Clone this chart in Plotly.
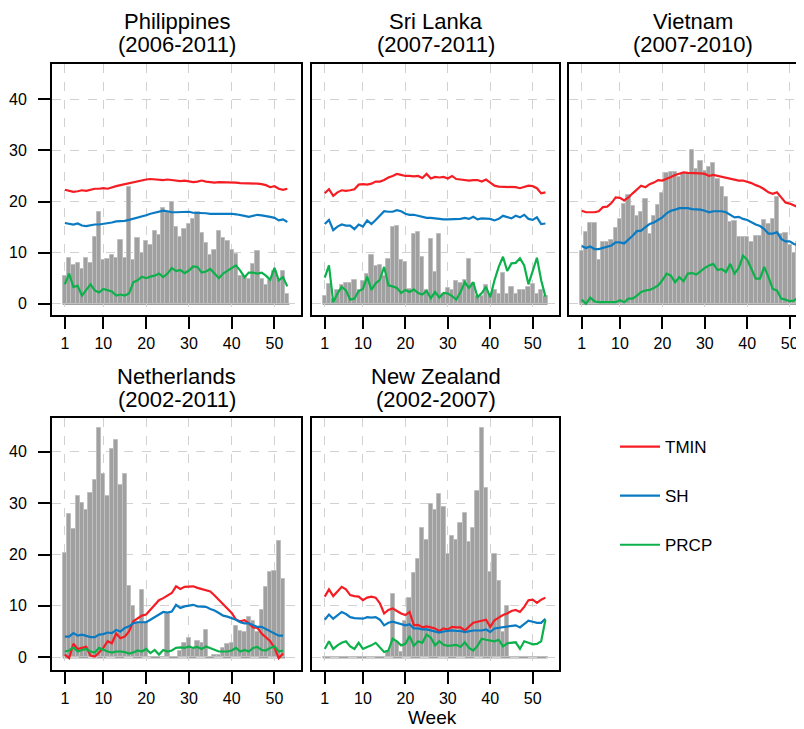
import plotly.graph_objects as go

PAGE_W, PAGE_H = 804, 729
OFF = 8  # default page body margin
W, H = PAGE_W - OFF, PAGE_H - OFF

countries = ["Philippines", "Sri Lanka", "Vietnam", "Netherlands", "New Zealand"]
periods = ["(2006-2011)", "(2007-2011)", "(2007-2010)", "(2002-2011)", "(2002-2007)"]
x_tick_vals = [1, 10, 20, 30, 40, 50]
y_tick_vals = [0, 10, 20, 30, 40]
series_names = ["TMIN", "SH", "PRCP"]

# ---- Philippines (weeks 1-53)
ph_cases = [5.5, 9.0, 7.5, 8.0, 6.8, 9.0, 8.0, 13.0, 18.0, 8.5, 8.8, 9.5, 9.0, 12.5, 9.0, 22.8, 8.5, 12.8,
            10.0, 12.2, 11.4, 14.2, 13.4, 18.8, 18.0, 19.9, 15.0, 13.0, 14.6, 15.6, 16.6, 18.0, 13.9, 11.9,
            9.5, 10.6, 14.3, 12.8, 12.2, 10.6, 9.8, 5.5, 5.5, 4.9, 7.7, 10.4, 4.9, 3.6, 4.6, 6.4, 4.6, 6.5, 2.0]
ph_tmin = [22.3, 22.1, 21.9, 22.0, 22.2, 22.1, 22.3, 22.5, 22.5, 22.6, 22.5, 22.8, 23.0, 23.2, 23.4, 23.6,
           23.8, 23.9, 24.1, 24.3, 24.4, 24.3, 24.3, 24.2, 24.3, 24.2, 24.0, 24.0, 24.1, 24.0, 23.8, 23.9,
           24.1, 23.9, 23.8, 23.7, 23.8, 23.8, 23.7, 23.7, 23.7, 23.6, 23.6, 23.5, 23.5, 23.5, 23.4, 23.2,
           22.8, 23.0, 22.5, 22.3, 22.5]
ph_sh = [15.8, 15.7, 15.5, 15.7, 15.3, 15.2, 15.4, 15.5, 15.5, 15.6, 15.8, 15.9, 16.1, 16.1, 16.2, 16.4,
         16.6, 16.8, 17.0, 17.3, 17.6, 17.8, 18.0, 18.2, 18.1, 17.9, 17.9, 17.9, 18.0, 18.0, 17.8, 17.8,
         17.7, 17.7, 17.6, 17.6, 17.6, 17.7, 17.6, 17.6, 17.5, 17.4, 17.2, 17.0, 17.2, 17.4, 17.3, 17.2,
         17.0, 16.8, 16.3, 16.5, 16.0]
ph_prcp = [3.8, 5.9, 3.3, 3.5, 1.6, 2.7, 3.8, 2.6, 2.2, 2.9, 2.6, 2.4, 1.6, 1.8, 1.6, 2.0, 4.2, 4.6, 5.3,
           5.0, 5.3, 5.5, 5.9, 5.2, 5.9, 7.0, 6.4, 6.6, 6.0, 6.5, 7.3, 7.2, 6.1, 6.3, 6.8, 5.9, 5.0, 5.9,
           6.4, 7.0, 7.5, 6.5, 5.2, 6.1, 6.1, 5.9, 6.1, 5.5, 4.7, 7.0, 4.6, 5.2, 3.4]

# ---- Sri Lanka (weeks 1-53)
sl_cases = [1.6, 3.9, 1.0, 2.6, 3.6, 4.0, 4.0, 4.7, 2.6, 4.4, 5.9, 9.6, 7.3, 7.5, 5.5, 8.8, 15.0, 15.3,
            8.6, 8.1, 2.9, 13.7, 14.0, 9.1, 2.6, 12.7, 6.2, 13.7, 2.0, 3.1, 2.6, 4.4, 4.0, 4.6, 8.8, 4.0,
            1.6, 1.6, 3.6, 1.8, 2.7, 2.0, 6.0, 2.0, 3.3, 2.0, 2.6, 2.6, 3.3, 3.8, 2.0, 2.7, 1.6]
sl_tmin = [21.6, 22.4, 21.1, 21.8, 22.2, 22.1, 22.2, 22.4, 23.3, 23.4, 23.3, 23.5, 23.9, 23.9, 24.2, 24.7,
           25.0, 25.4, 25.2, 25.0, 25.0, 24.9, 25.0, 24.6, 25.4, 24.5, 24.8, 24.7, 24.8, 24.5, 25.0, 24.4,
           24.3, 24.2, 24.1, 24.2, 24.2, 23.9, 24.3, 23.7, 23.1, 22.9, 22.9, 22.9, 22.9, 22.8, 22.6, 22.9,
           23.1, 23.0, 22.6, 21.6, 21.8]
sl_sh = [15.6, 16.4, 14.4, 15.1, 15.5, 15.3, 15.3, 14.6, 15.5, 15.1, 16.3, 15.6, 16.4, 17.2, 18.1, 18.0,
         18.0, 18.3, 18.1, 17.6, 17.4, 17.4, 17.2, 17.0, 16.8, 16.8, 16.7, 16.5, 16.5, 16.5, 16.5, 16.5,
         16.6, 16.8, 16.6, 17.0, 16.5, 16.7, 16.6, 16.6, 16.3, 16.6, 17.2, 16.9, 16.7, 17.2, 16.9, 17.4,
         16.6, 16.4, 16.9, 15.6, 15.7]
sl_prcp = [5.1, 7.5, 0.3, 2.0, 3.3, 2.6, 0.8, 1.0, 2.5, 2.9, 5.3, 2.7, 4.0, 4.7, 7.2, 3.6, 3.4, 3.1, 2.1,
           2.7, 2.3, 2.8, 2.1, 1.8, 2.5, 1.1, 2.3, 1.2, 2.1, 2.0, 1.5, 0.8, 2.3, 4.2, 3.1, 4.2, 1.3, 2.1,
           3.3, 1.3, 4.6, 7.2, 9.2, 6.4, 7.9, 8.0, 8.9, 7.5, 3.8, 6.5, 9.0, 4.6, 1.4]

# ---- Vietnam (weeks 1-53)
vn_cases = [10.4, 14.0, 15.7, 15.7, 8.5, 12.0, 12.0, 12.4, 14.8, 16.5, 19.5, 21.3, 19.2, 17.2, 17.9, 20.5,
            13.7, 17.2, 19.3, 21.6, 25.5, 25.7, 25.7, 24.7, 25.4, 25.5, 30.0, 26.3, 28.0, 26.0, 26.8, 27.5,
            24.4, 22.8, 20.8, 15.9, 16.1, 13.0, 13.1, 13.1, 12.0, 13.3, 13.3, 16.3, 15.6, 16.6, 20.8, 13.7,
            13.8, 11.4, 10.0, 12.0, 12.0]
vn_tmin = [18.2, 17.9, 17.9, 17.9, 18.1, 18.9, 19.0, 19.7, 20.8, 20.7, 20.2, 20.8, 21.6, 22.4, 23.1, 22.8,
           23.4, 23.7, 24.2, 24.1, 24.4, 24.8, 25.2, 25.4, 25.7, 25.6, 25.6, 25.6, 25.5, 25.4, 25.0, 25.2,
           25.0, 24.9, 24.7, 24.4, 24.2, 24.1, 24.1, 23.9, 23.6, 23.2, 22.9, 22.4, 21.8, 21.5, 21.8, 20.8,
           19.8, 19.6, 19.2, 18.9, 19.4]
vn_sh = [11.3, 10.9, 11.2, 10.7, 10.7, 10.9, 11.1, 11.4, 12.0, 12.0, 11.8, 12.5, 13.3, 14.2, 14.3, 15.0,
         15.6, 15.9, 16.4, 16.9, 17.7, 18.2, 18.4, 18.7, 18.7, 18.7, 18.5, 18.5, 18.4, 18.2, 17.9, 18.1,
         18.1, 18.1, 17.9, 17.4, 16.9, 17.0, 16.6, 16.4, 15.9, 15.5, 15.2, 14.6, 13.7, 13.7, 14.0, 12.7,
         12.2, 12.2, 11.7, 11.4, 12.0]
vn_prcp = [0.8, 0.0, 1.2, 0.5, 0.3, 0.3, 0.2, 0.2, 0.3, 0.7, 0.3, 1.0, 1.0, 1.6, 2.3, 2.6, 2.7, 3.1, 3.6,
           4.6, 5.9, 5.5, 4.2, 5.2, 4.4, 5.9, 6.0, 5.7, 6.4, 7.0, 7.5, 7.8, 6.6, 6.8, 6.2, 7.8, 5.9, 7.0,
           9.4, 8.6, 6.8, 4.9, 4.9, 7.2, 5.2, 2.9, 2.6, 1.0, 0.8, 0.5, 0.6, 1.2, 0.1]

# ---- Netherlands (weeks 1-52)
nl_cases = [20.2, 27.9, 25.0, 31.5, 30.0, 28.6, 32.0, 34.5, 44.6, 35.6, 31.5, 40.5, 42.4, 33.6, 35.6, 13.9,
            9.9, 6.8, 13.0, 6.8, 0.0, 0.0, 0.0, 0.0, 8.5, 0.0, 0.0, 1.2, 2.8, 3.8, 1.5, 3.2, 2.8, 5.3, 0.0,
            0.5, 0.5, 1.8, 2.5, 2.7, 6.1, 5.1, 4.9, 7.9, 7.1, 5.0, 9.1, 13.7, 16.5, 16.7, 22.6, 15.3]
nl_tmin = [0.5, -0.2, 2.6, 1.6, 1.8, 2.0, 0.3, 0.1, 0.9, 1.8, 3.1, 2.7, 4.6, 3.7, 4.0, 5.0, 7.0, 7.6, 8.1,
           8.3, 9.2, 10.1, 11.1, 11.5, 12.0, 12.5, 13.8, 13.3, 13.7, 13.7, 13.8, 13.5, 13.3, 13.1, 12.8,
           12.0, 11.1, 10.2, 9.4, 8.6, 7.3, 7.0, 7.2, 6.6, 5.8, 5.7, 4.6, 3.9, 3.1, 1.8, -0.2, 0.7]
nl_sh = [4.0, 4.0, 4.7, 4.2, 4.4, 4.2, 3.9, 3.9, 4.4, 4.5, 4.8, 4.7, 5.3, 5.0, 5.7, 6.0, 6.6, 6.8, 6.8,
         6.8, 7.3, 7.8, 8.3, 8.8, 8.7, 8.9, 10.2, 9.6, 9.9, 10.1, 10.2, 9.9, 9.8, 9.8, 9.4, 9.1, 8.6, 8.1,
         7.9, 7.6, 7.3, 6.8, 6.6, 6.6, 6.2, 5.9, 5.9, 5.5, 5.0, 4.7, 4.2, 4.2]
nl_prcp = [1.1, 1.3, 1.9, 1.1, 1.4, 1.6, 1.1, 0.9, 1.8, 1.4, 1.1, 0.9, 1.1, 1.1, 1.0, 0.7, 0.9, 1.3, 1.1,
           1.6, 0.8, 1.4, 0.5, 1.4, 1.1, 1.3, 1.8, 1.9, 1.8, 2.1, 1.8, 2.0, 1.6, 2.1, 1.8, 1.4, 1.1, 1.1,
           1.1, 1.3, 1.8, 1.1, 1.4, 1.1, 1.8, 2.0, 1.4, 1.3, 1.8, 2.1, 1.1, 1.3]

# ---- New Zealand (weeks 1-53)
nz_cases = [0.0] * 15 + [1.2, 12.4, 3.0, 1.0, 7.0, 11.5, 16.4, 19.2, 25.2, 22.9, 29.9, 28.6, 31.7, 29.2,
                         20.1, 23.7, 22.9, 26.1, 28.1, 22.5, 25.2, 32.4, 44.6, 33.0, 16.5, 20.1, 14.8, 4.9,
                         10.0] + [0.0] * 9
nz_tmin = [11.8, 13.2, 11.9, 12.7, 13.7, 13.2, 12.1, 11.9, 11.8, 11.1, 11.6, 11.8, 11.6, 10.5, 8.5, 9.2,
           9.5, 9.0, 8.5, 8.2, 8.8, 6.2, 6.3, 5.8, 6.0, 5.8, 5.6, 5.1, 5.6, 5.4, 5.9, 5.8, 5.8, 5.2, 6.0,
           6.7, 6.9, 7.1, 7.3, 5.9, 7.2, 7.7, 8.2, 8.5, 9.0, 9.2, 8.8, 9.8, 11.1, 11.2, 10.6, 11.2, 11.6]
nz_sh = [7.3, 8.3, 7.5, 8.2, 8.8, 8.4, 7.8, 7.6, 7.6, 7.5, 7.8, 7.7, 7.8, 7.3, 6.2, 6.7, 6.9, 6.7, 6.5,
         6.2, 6.4, 5.6, 5.6, 5.4, 5.4, 5.2, 5.1, 4.8, 5.0, 5.1, 5.2, 5.1, 5.1, 4.9, 5.1, 5.2, 5.2, 5.2,
         5.4, 4.9, 5.6, 5.7, 5.8, 5.9, 6.0, 6.2, 5.8, 6.5, 7.1, 6.9, 6.7, 6.7, 7.5]
nz_prcp = [1.6, 3.1, 1.6, 2.3, 2.8, 3.1, 2.1, 1.6, 2.8, 1.6, 2.0, 2.3, 2.8, 2.0, 1.0, 1.3, 3.6, 3.1, 2.3,
           2.6, 4.1, 2.2, 3.1, 2.8, 4.4, 3.8, 2.3, 3.1, 2.4, 2.2, 2.3, 2.4, 2.0, 2.9, 1.8, 1.3, 2.2, 3.6,
           3.4, 3.3, 3.1, 3.4, 2.1, 2.7, 2.8, 2.9, 1.6, 3.1, 2.8, 2.5, 2.6, 3.1, 7.3]

cases = [ph_cases, sl_cases, vn_cases, nl_cases, nz_cases]
tmin = [ph_tmin, sl_tmin, vn_tmin, nl_tmin, nz_tmin]
sh = [ph_sh, sl_sh, vn_sh, nl_sh, nz_sh]
prcp = [ph_prcp, sl_prcp, vn_prcp, nl_prcp, nz_prcp]

# ---------------- styling / layout ----------------
FONT = "Liberation Sans, Arial, sans-serif"
line_colors = {"TMIN": "#f51d24", "SH": "#0a7bc2", "PRCP": "#0db14b"}
bar_fill = "#a0a0a0"
bar_edge = "#c0c0c0"

# panel boxes in page pixels
col_px = [(52, 301), (312, 559), (569, 816)]
row_px = [(64, 315), (418, 670)]
cell = [(0, 0), (0, 1), (0, 2), (1, 0), (1, 1)]
y_ranges = [(-2.2, 46.9), (-2.5, 46.6)]
x_left, x_span = -2.0, 58.2


def fx(px):  # page px -> paper x
    return (px - OFF) / W


def fy(py):  # page px -> paper y
    return 1 - (py - OFF) / H


fig = go.Figure()
annotations = []
shapes = []

for i, name in enumerate(countries):
    r, c = cell[i]
    n = i + 1
    xa = "x" if n == 1 else f"x{n}"
    ya = "y" if n == 1 else f"y{n}"
    weeks = list(range(1, len(cases[i]) + 1))

    fig.add_trace(go.Bar(x=weeks, y=cases[i], xaxis=xa, yaxis=ya, showlegend=False,
                         marker=dict(color=bar_fill, line=dict(color=bar_edge, width=1)),
                         hoverinfo="skip"))
    for sname, vals in zip(series_names, [tmin[i], sh[i], prcp[i]]):
        fig.add_trace(go.Scatter(x=weeks, y=vals, xaxis=xa, yaxis=ya, mode="lines", name=sname,
                                 legendgroup=sname, showlegend=(i == 0),
                                 line=dict(color=line_colors[sname], width=2.2)))

    # gray baseline of the bar series (zero-height bars)
    shapes.append(dict(type="line", xref=xa, yref=ya, x0=weeks[0] - 0.5, x1=weeks[-1] + 0.5,
                       y0=0, y1=0, line=dict(color=bar_fill, width=2.5), layer="below"))

    x0px, x1px = col_px[c]
    y0px, y1px = row_px[r]
    px_per_wk = (x1px - x0px) / x_span
    d_end = min(x1px, PAGE_W)
    x_right = x_left + (d_end - x0px) / px_per_wk
    clipped = x1px > PAGE_W

    xkey = "xaxis" if n == 1 else f"xaxis{n}"
    ykey = "yaxis" if n == 1 else f"yaxis{n}"
    fig.layout[xkey] = dict(domain=[fx(x0px), min(1.0, fx(d_end))], range=[x_left, x_right], anchor=ya,
                            tickvals=x_tick_vals, ticks="outside", ticklen=12, tickwidth=2,
                            tickcolor="black", showline=True, linecolor="black", linewidth=2,
                            mirror=True, showgrid=True, gridcolor="#d2d2d2", griddash="dash",
                            gridwidth=1, zeroline=False, ticklabelstandoff=1,
                            tickfont=dict(family=FONT, size=16, color="black"))
    fig.layout[ykey] = dict(domain=[fy(y1px), fy(y0px)], range=list(y_ranges[r]), anchor=xa,
                            tickvals=y_tick_vals, showline=True, linecolor="black", linewidth=2,
                            mirror=(not clipped), showgrid=True, gridcolor="#d2d2d2", griddash="dash",
                            gridwidth=1, zeroline=False,
                            ticks="outside" if c == 0 else "", ticklen=12, tickwidth=2,
                            tickcolor="black", showticklabels=(c == 0), ticklabelstandoff=8,
                            tickfont=dict(family=FONT, size=16, color="black"))

    cx = fx((x0px + x1px) / 2)
    annotations.append(dict(text=name, x=cx, y=fy(y0px - 42), xref="paper", yref="paper",
                            showarrow=False, xanchor="center", yanchor="middle",
                            font=dict(family=FONT, size=22, color="black")))
    annotations.append(dict(text=periods[i], x=cx, y=fy(y0px - 19), xref="paper", yref="paper",
                            showarrow=False, xanchor="center", yanchor="middle",
                            font=dict(family=FONT, size=22, color="black")))

annotations.append(dict(text="Week", x=fx(432), y=fy(729), xref="paper", yref="paper",
                        showarrow=False, xanchor="center", yanchor="bottom", borderpad=0,
                        font=dict(family=FONT, size=19, color="black")))

fig.update_layout(
    width=W, height=H, margin=dict(l=0, r=0, t=0, b=0),
    paper_bgcolor="white", plot_bgcolor="white",
    bargap=0, barmode="overlay",
    annotations=annotations, shapes=shapes,
    showlegend=True,
    legend=dict(x=fx(615), y=fy(429), xanchor="left", yanchor="top",
                font=dict(family=FONT, size=17, color="black"), tracegroupgap=24,
                traceorder="grouped", bgcolor="rgba(0,0,0,0)", itemwidth=40),
    font=dict(family=FONT, color="black"),
)

fig.write_html("out.html")
